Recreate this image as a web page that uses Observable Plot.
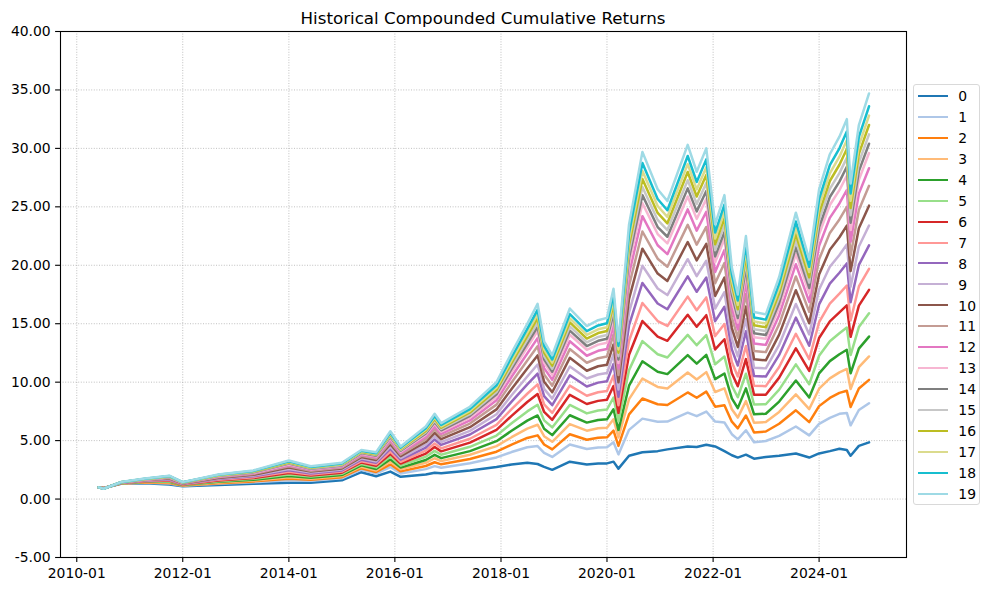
<!DOCTYPE html>
<html><head><meta charset="utf-8">
<script src="https://cdn.jsdelivr.net/npm/d3@7"></script>
<script src="https://cdn.jsdelivr.net/npm/@observablehq/plot@0.6"></script>
<style>
body{margin:0;background:#fff;}
#wrap{position:relative;width:988px;height:593px;font-family:"DejaVu Sans",sans-serif;color:#000;}
#title{position:absolute;left:60px;width:846px;top:8px;line-height:20px;text-align:center;font-size:16.7px;}
#legend{position:absolute;left:912.5px;top:83.5px;width:67px;height:421px;box-sizing:border-box;border:1px solid #d9d9d9;border-radius:3px;background:rgba(255,255,255,0.8);}
.lg-line{position:absolute;height:2px;width:29.5px;}
.lg-lab{position:absolute;font-size:13.9px;line-height:16px;white-space:nowrap;}
</style></head><body><div id="wrap"><div id="title"></div></div>
<script>
const titleText = "Historical Compounded Cumulative Returns";
const seriesNames = ["0","1","2","3","4","5","6","7","8","9","10","11","12","13","14","15","16","17","18","19"];
const seriesColors = ["#1f77b4","#aec7e8","#ff7f0e","#ffbb78","#2ca02c","#98df8a","#d62728","#ff9896","#9467bd","#c5b0d5","#8c564b","#c49c94","#e377c2","#f7b6d2","#7f7f7f","#c7c7c7","#bcbd22","#dbdb8d","#17becf","#9edae5"];
const xTickLabels = ["2010-01","2012-01","2014-01","2016-01","2018-01","2020-01","2022-01","2024-01"];
const yTicks = [-5,0,5,10,15,20,25,30,35,40];

const dates = ["2010-06-01","2010-07-05","2010-11-01","2011-04-15","2011-10-01","2012-01-01","2012-09-01","2013-05-01","2014-01-01","2014-06-01",
"2015-01-01","2015-05-15","2015-08-25","2015-12-01","2016-02-10","2016-08-01","2016-10-01","2016-11-15","2017-06-01","2017-12-01",
"2018-03-15","2018-07-01","2018-09-10","2018-10-25","2018-12-20","2019-04-20","2019-08-15","2019-11-01","2020-01-01","2020-02-15",
"2020-03-20","2020-06-01","2020-09-01","2020-12-15","2021-02-20","2021-07-10","2021-09-10","2021-11-15","2022-01-15","2022-03-20",
"2022-05-10","2022-06-20","2022-08-15","2022-10-10","2022-12-30","2023-04-01","2023-07-25","2023-10-25","2024-01-01","2024-03-15",
"2024-05-20","2024-07-10","2024-08-05","2024-10-01","2024-12-10"];

const s0 = [1.00,.95,1.30,1.35,1.25,1.10,1.20,1.30,1.40,1.40,1.60,2.30,1.95,2.35,1.90,2.10,2.25,2.20,2.45,2.75,2.95,3.10,3.00,2.75,2.50,3.20,2.95,3.05,3.05,3.20,2.60,3.70,4.00,4.10,4.25,4.50,4.45,4.65,4.50,4.10,3.75,3.55,3.80,3.45,3.60,3.70,3.90,3.55,3.90,4.10,4.30,4.20,3.70,4.55,4.85];
const s1 = [1.00,.94,1.32,1.39,1.33,1.14,1.30,1.43,1.61,1.56,1.77,2.51,2.18,2.74,2.19,2.56,2.82,2.68,3.06,3.56,4.02,4.43,4.53,3.95,3.60,4.67,4.28,4.42,4.44,4.86,3.82,5.92,6.88,6.61,6.63,7.39,7.09,7.49,6.63,6.55,5.55,5.11,5.89,4.86,4.97,5.41,6.21,5.45,6.43,6.94,7.29,7.37,6.31,7.62,8.20];
const s2 = [1.00,.94,1.33,1.42,1.38,1.16,1.36,1.51,1.74,1.65,1.87,2.64,2.32,2.97,2.37,2.83,3.15,2.97,3.43,4.05,4.66,5.23,5.45,4.67,4.25,5.54,5.07,5.24,5.28,5.85,4.55,7.24,8.60,8.11,8.05,9.12,8.67,9.19,7.90,8.02,6.62,6.05,7.15,5.70,5.78,6.44,7.59,6.58,7.95,8.65,9.08,9.27,7.87,9.46,10.20];
const s3 = [1.00,.93,1.34,1.45,1.43,1.19,1.42,1.58,1.87,1.74,1.97,2.77,2.45,3.20,2.54,3.10,3.49,3.25,3.79,4.53,5.29,6.02,6.36,5.38,4.90,6.41,5.85,6.05,6.10,6.83,5.27,8.55,10.30,9.59,9.46,10.82,10.22,10.86,9.16,9.47,7.68,6.97,8.38,6.52,6.59,7.45,8.95,7.70,9.44,10.32,10.84,11.13,9.41,11.28,12.20];
const s4 = [1.00,.93,1.35,1.47,1.48,1.21,1.47,1.65,1.98,1.82,2.05,2.88,2.57,3.40,2.69,3.34,3.78,3.50,4.10,4.95,5.84,6.71,7.15,6.01,5.47,7.17,6.54,6.76,6.82,7.68,5.90,9.70,11.79,10.89,10.69,12.32,11.59,12.33,10.26,10.74,8.61,7.78,9.47,7.25,7.30,8.34,10.14,8.69,10.75,11.80,12.39,12.77,10.76,12.87,13.90];
const s5 = [1.00,.92,1.36,1.50,1.53,1.23,1.53,1.73,2.10,1.92,2.16,3.00,2.71,3.63,2.86,3.62,4.12,3.79,4.47,5.43,6.48,7.50,8.07,6.73,6.13,8.05,7.33,7.58,7.66,8.68,6.63,11.03,13.51,12.39,12.11,14.05,13.16,14.03,11.53,12.20,9.69,8.71,10.72,8.09,8.11,9.36,11.52,9.82,12.26,13.50,14.18,14.67,12.32,14.71,15.90];
const s6 = [1.00,.92,1.37,1.52,1.58,1.25,1.59,1.80,2.23,2.01,2.26,3.13,2.85,3.86,3.04,3.89,4.46,4.08,4.83,5.92,7.12,8.30,8.99,7.45,6.78,8.92,8.13,8.40,8.49,9.67,7.36,12.35,15.23,13.89,13.54,15.77,14.74,15.73,12.80,13.67,10.76,9.65,11.97,8.93,8.93,10.39,12.90,10.96,13.78,15.20,15.97,16.57,13.88,16.55,17.90];
const s7 = [1.00,.92,1.37,1.55,1.62,1.27,1.65,1.87,2.34,2.10,2.35,3.24,2.97,4.06,3.19,4.14,4.76,4.34,5.16,6.35,7.70,9.01,9.81,8.09,7.37,9.71,8.84,9.14,9.24,10.56,8.02,13.54,16.77,15.23,14.81,17.32,16.15,17.25,13.94,14.98,11.73,10.48,13.09,9.69,9.66,11.30,14.14,11.97,15.13,16.72,17.57,18.27,15.28,18.19,19.70];
const s8 = [1.00,.91,1.38,1.58,1.67,1.30,1.71,1.95,2.47,2.19,2.45,3.37,3.11,4.30,3.37,4.41,5.10,4.63,5.52,6.84,8.34,9.81,10.73,8.81,8.03,10.59,9.63,9.96,10.07,11.55,8.75,14.87,18.49,16.73,16.24,19.05,17.73,18.95,15.22,16.45,12.80,11.42,14.35,10.53,10.48,12.33,15.52,13.11,16.65,18.43,19.36,20.16,16.84,20.03,21.70];
const s9 = [1.00,.91,1.39,1.60,1.72,1.32,1.76,2.01,2.58,2.27,2.53,3.48,3.22,4.49,3.51,4.65,5.39,4.87,5.83,7.25,8.88,10.49,11.51,9.43,8.59,11.34,10.31,10.66,10.78,12.39,9.37,16.00,19.96,18.01,17.45,20.52,19.07,20.39,16.30,17.70,13.72,12.21,15.41,11.24,11.18,13.20,16.69,14.08,17.93,19.87,20.88,21.77,18.17,21.60,23.40];
const s10 = [1.00,.90,1.40,1.62,1.76,1.34,1.81,2.08,2.69,2.35,2.62,3.59,3.34,4.69,3.66,4.88,5.67,5.12,6.15,7.67,9.42,11.17,12.29,10.04,9.14,12.08,10.98,11.36,11.49,13.23,9.99,17.12,21.42,19.29,18.66,21.99,20.42,21.84,17.38,18.95,14.63,13.01,16.48,11.96,11.87,14.07,17.87,15.04,19.22,21.32,22.40,23.39,19.50,23.16,25.10];
const s11 = [1.00,.90,1.41,1.64,1.80,1.36,1.86,2.15,2.80,2.43,2.70,3.70,3.46,4.89,3.81,5.11,5.96,5.36,6.46,8.08,9.97,11.85,13.07,10.65,9.70,12.83,11.66,12.05,12.20,14.08,10.61,18.25,22.89,20.56,19.87,23.46,21.76,23.28,18.47,20.20,15.55,13.80,17.54,12.67,12.57,14.95,19.04,16.01,20.51,22.77,23.92,25.00,20.83,24.73,26.80];
const s12 = [1.00,.90,1.42,1.66,1.84,1.38,1.91,2.20,2.89,2.50,2.78,3.79,3.56,5.06,3.94,5.32,6.22,5.58,6.73,8.45,10.46,12.45,13.77,11.20,10.20,13.50,12.26,12.68,12.84,14.83,11.17,19.26,24.20,21.71,20.95,24.78,22.96,24.58,19.43,21.31,16.37,14.51,18.50,13.31,13.19,15.73,20.09,16.87,21.66,24.06,25.29,26.44,22.01,26.13,28.30];
const s13 = [1.00,.89,1.42,1.68,1.87,1.39,1.95,2.25,2.98,2.56,2.84,3.88,3.65,5.21,4.06,5.50,6.44,5.76,6.97,8.76,10.87,12.97,14.36,11.66,10.62,14.06,12.77,13.21,13.37,15.47,11.64,20.11,25.31,22.67,21.87,25.89,23.97,25.67,20.25,22.26,17.06,15.11,19.30,13.85,13.71,16.38,20.98,17.60,22.64,25.16,26.43,27.66,23.02,27.31,29.60];
const s14 = [1.00,.89,1.43,1.69,1.89,1.40,1.97,2.28,3.03,2.60,2.88,3.93,3.70,5.30,4.13,5.61,6.57,5.88,7.12,8.96,11.13,13.29,14.73,11.95,10.89,14.41,13.09,13.54,13.71,15.87,11.93,20.65,26.00,23.27,22.44,26.58,24.61,26.35,20.76,22.85,17.49,15.49,19.81,14.19,14.04,16.80,21.53,18.06,23.25,25.84,27.16,28.43,23.64,28.05,30.40];
const s15 = [1.00,.89,1.43,1.70,1.91,1.41,1.99,2.32,3.08,2.64,2.92,3.98,3.76,5.40,4.20,5.72,6.71,6.00,7.26,9.15,11.38,13.61,15.10,12.24,11.15,14.77,13.41,13.87,14.04,16.27,12.22,21.18,26.69,23.88,23.01,27.28,25.24,27.03,21.28,23.44,17.92,15.87,20.31,14.53,14.37,17.21,22.09,18.52,23.86,26.53,27.88,29.19,24.27,28.79,31.20];
const s16 = [1.00,.89,1.44,1.71,1.93,1.42,2.02,2.35,3.13,2.67,2.97,4.03,3.82,5.49,4.27,5.83,6.85,6.11,7.41,9.35,11.64,13.93,15.47,12.53,11.42,15.12,13.73,14.20,14.38,16.67,12.52,21.72,27.39,24.48,23.59,27.98,25.88,27.72,21.79,24.03,18.36,16.24,20.82,14.87,14.70,17.62,22.65,18.97,24.47,27.21,28.60,29.95,24.90,29.53,32.00];
const s17 = [1.00,.88,1.44,1.72,1.95,1.43,2.04,2.38,3.18,2.71,3.00,4.08,3.87,5.58,4.33,5.94,6.98,6.22,7.55,9.54,11.89,14.24,15.82,12.81,11.67,15.46,14.04,14.52,14.70,17.05,12.80,22.23,28.06,25.07,24.14,28.65,26.49,28.38,22.28,24.60,18.77,16.61,21.30,15.20,15.02,18.02,23.18,19.42,25.05,27.87,29.29,30.69,25.51,30.24,32.80];
const s18 = [1.00,.88,1.44,1.74,1.97,1.44,2.07,2.41,3.23,2.75,3.04,4.13,3.92,5.67,4.40,6.05,7.11,6.34,7.70,9.73,12.15,14.56,16.19,13.10,11.94,15.82,14.36,14.85,15.04,17.45,13.10,22.77,28.75,25.67,24.71,29.35,27.13,29.06,22.80,25.19,19.21,16.98,21.81,15.54,15.35,18.43,23.74,19.87,25.66,28.56,30.01,31.45,26.14,30.98,33.60];
const s19 = [1.00,.88,1.45,1.75,2.00,1.45,2.10,2.45,3.30,2.80,3.10,4.20,4.00,5.80,4.50,6.20,7.30,6.50,7.90,10.00,12.50,15.00,16.70,13.50,12.30,16.30,14.80,15.30,15.50,18.00,13.50,23.50,29.70,26.50,25.50,30.30,28.00,30.00,23.50,26.00,19.80,17.50,22.50,16.00,15.80,19.00,24.50,20.50,26.50,29.50,31.00,32.50,27.00,32.00,34.70];

const allSeries = [s0,s1,s2,s3,s4,s5,s6,s7,s8,s9,s10,s11,s12,s13,s14,s15,s16,s17,s18,s19];

const parseDay = d3.utcParse("%Y-%m-%d");
const parseMonth = d3.utcParse("%Y-%m");
const rows = [];
allSeries.forEach((vals, k) => {
  dates.forEach((d, i) => {
    if (vals[i] != null) rows.push({date: parseDay(d), value: vals[i], series: seriesNames[k]});
  });
});
const xTicks = xTickLabels.map(parseMonth);

const gridStyle = {stroke: "#b0b0b0", strokeOpacity: 1, strokeWidth: 0.8, strokeDasharray: "1,1.6"};

const chart = Plot.plot({
  width: 988,
  height: 593,
  marginLeft: 60,
  marginRight: 82,
  marginTop: 31,
  marginBottom: 36,
  style: {fontFamily: "DejaVu Sans, sans-serif", fontSize: "13.9px", color: "#000", background: "transparent", overflow: "visible"},
  x: {type: "utc", domain: [parseDay("2009-09-11"), parseDay("2025-08-25")]},
  y: {domain: [-5, 40]},
  color: {type: "ordinal", domain: seriesNames, range: seriesColors},
  marks: [
    Plot.gridX(xTicks, gridStyle),
    Plot.gridY(yTicks, gridStyle),
    Plot.line(rows, {x: "date", y: "value", z: "series", stroke: "series", strokeWidth: 2.5, strokeLinejoin: "round"}),
    Plot.axisX(xTicks, {tickFormat: d3.utcFormat("%Y-%m"), tickSize: 4.9, tickPadding: 6, strokeWidth: 1.1, label: null, fontSize: 13.9}),
    Plot.axisY(yTicks, {tickFormat: d => d.toFixed(2), tickSize: 4.9, tickPadding: 4.9, strokeWidth: 1.1, label: null, fontSize: 13.9}),
    Plot.frame({stroke: "#000", strokeWidth: 1.1})
  ]
});
const wrap = document.getElementById("wrap");
chart.style.position = "absolute";
chart.style.left = "0px";
chart.style.top = "0px";
wrap.insertBefore(chart, wrap.firstChild);
document.getElementById("title").textContent = titleText;

const legend = document.createElement("div");
legend.id = "legend";
wrap.appendChild(legend);
seriesNames.forEach((name, i) => {
  const cy = 95 + i * 20.93 - 83.5;
  const ln = document.createElement("div");
  ln.className = "lg-line";
  ln.style.left = (917.3 - 912.5) + "px";
  ln.style.top = (cy - 1) + "px";
  ln.style.background = seriesColors[i];
  legend.appendChild(ln);
  const lb = document.createElement("div");
  lb.className = "lg-lab";
  lb.style.left = (957.3 - 912.5) + "px";
  lb.style.top = (cy - 7.8) + "px";
  lb.textContent = name;
  legend.appendChild(lb);
});
</script></body></html>
